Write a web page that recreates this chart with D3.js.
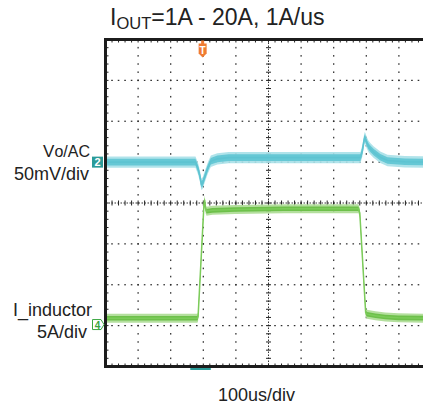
<!DOCTYPE html>
<html><head><meta charset="utf-8">
<script src="https://cdn.jsdelivr.net/npm/d3@7"></script>
<style>
html,body{margin:0;padding:0;background:#fff;overflow:hidden;}
svg{display:block;font-family:"Liberation Sans",Arial,sans-serif;}
</style></head>
<body>
<svg id="c" width="423" height="404"></svg>
<script>
// ---- data (time in us relative to trigger) ----
const voTime = [-298,-100,-22,-14,-8,-4,0,3,9,16,25,45,80,150,250,350,450,484,490,494,497,500,503,509,515,525,545,567,620,702];
const voMilliVolt = [0,0,0,-8,-18,-27,-26,-22,-15,-7,1,4,5.5,5.5,5.5,5.5,5.5,5.5,14,24,30,28,24,19,16,12,6,2,0.5,0];
const ilTime = [-298,-100,-16,-14,4,6,9,12,30,100,250,400,478,482,500,504,530,560,600,702];
const ilAmp = [0.4,0.4,0.4,0.6,14.3,14.9,13.8,13.5,13.6,13.7,13.8,13.8,13.8,13.3,1.1,0.9,0.7,0.55,0.45,0.4];
const timePerDiv = 100, voltPerDiv = 50, ampPerDiv = 5;
const titleMain = "=1A - 20A, 1A/us";
const chanLabels = [["V","o/AC"],["50mV/div"],["I_inductor"],["5A/div"]];
const timeLabel = "100us/div";

const svg = d3.select("#c");
const L = 105.5, R = 431.5, T = 39.5, B = 366.5;
const x = d3.scaleLinear().domain([-298, -298 + 10*timePerDiv]).range([L, R]);
const yV = d3.scaleLinear().domain([-5*voltPerDiv, 3*voltPerDiv]).range([B, T]);
const yI = d3.scaleLinear().domain([-1.1*ampPerDiv, 6.9*ampPerDiv]).range([B, T]);

const ink = "#1c1c1c";
const g = svg.append("g");

// grid
const divW = (R-L)/10, divH = (B-T)/8;
const dots = g.append("g").attr("fill", "#2a2a2a");
for (let i = 1; i < 10; i++) {
  if (i === 5) continue;
  const gx = x(-298 + i*timePerDiv);
  for (let k = 1; k < 40; k++) {
    dots.append("rect").attr("x", gx-0.6).attr("y", T + k*divH/5 - 0.8).attr("width", 1.2).attr("height", 1.6);
  }
}
for (let j = 1; j < 8; j++) {
  if (j === 4) continue;
  const gy = yV(-5*voltPerDiv + j*voltPerDiv);
  for (let k = 1; k < 50; k++) {
    const px = L + k*divW/5;
    if (px > 423) break;
    dots.append("rect").attr("x", px-0.8).attr("y", gy-0.6).attr("width", 1.6).attr("height", 1.2);
  }
}
// center axes
const cx = x(-298 + 5*timePerDiv), cy = yV(-5*voltPerDiv + 4*voltPerDiv);
g.append("line").attr("x1", cx).attr("x2", cx).attr("y1", T).attr("y2", B)
  .attr("stroke", "#333").attr("stroke-width", 1).attr("stroke-dasharray", "1.5,1.5");
g.append("line").attr("x1", L).attr("x2", 423).attr("y1", cy).attr("y2", cy)
  .attr("stroke", "#333").attr("stroke-width", 1).attr("stroke-dasharray", "1.5,1.5");
for (let k = 1; k < 40; k++) {
  const yy = T + k*divH/5;
  g.append("line").attr("x1", cx-2.5).attr("x2", cx+2.5).attr("y1", yy).attr("y2", yy).attr("stroke", "#222").attr("stroke-width", 1);
  g.append("line").attr("x1", L).attr("x2", L+3).attr("y1", yy).attr("y2", yy).attr("stroke", "#222").attr("stroke-width", 1);
}
for (let k = 1; k < 50; k++) {
  const xx = L + k*divW/5;
  if (xx > 423) break;
  g.append("line").attr("x1", xx).attr("x2", xx).attr("y1", cy-2.5).attr("y2", cy+2.5).attr("stroke", "#222").attr("stroke-width", 1);
  g.append("line").attr("x1", xx).attr("x2", xx).attr("y1", T).attr("y2", T+3).attr("stroke", "#222").attr("stroke-width", 1);
  g.append("line").attr("x1", xx).attr("x2", xx).attr("y1", B-3).attr("y2", B).attr("stroke", "#222").attr("stroke-width", 1);
}

// traces
const vo = voTime.map((t,i) => ({t, v: voMilliVolt[i]}));
const il = ilTime.map((t,i) => ({t, v: ilAmp[i]}));
function band(data, ys, hw, color, op) {
  g.append("path").datum(data)
    .attr("d", d3.area().x(d => x(d.t)).y0(d => ys(d.v - hw)).y1(d => ys(d.v + hw)))
    .attr("fill", color).attr("opacity", op);
}
band(vo, yV, 7, "#a7e0e8", 0.9);
band(vo, yV, 4, "#66c8d5", 1);
g.append("path").datum(vo).attr("d", d3.line().x(d => x(d.t)).y(d => yV(d.v)))
  .attr("fill", "none").attr("stroke", "#5ec3d1").attr("stroke-width", 1.6);
band(il, yI, 0.55, "#acdb93", 0.9);
band(il, yI, 0.28, "#6dc04a", 1);
g.append("path").datum(il).attr("d", d3.line().x(d => x(d.t)).y(d => yI(d.v)))
  .attr("fill", "none").attr("stroke", "#7ccb5a").attr("stroke-width", 1.5);

// frame
g.append("rect").attr("x", L).attr("y", T).attr("width", R-L).attr("height", B-T)
  .attr("fill", "none").attr("stroke", ink).attr("stroke-width", 3);

// trigger marker
const tx = x(0);
g.append("rect").attr("x", tx-1.5).attr("y", T+1).attr("width", 3).attr("height", 4).attr("fill", "#f07c32");
g.append("path").attr("d", `M${tx-4},${T+4} H${tx+4} V${T+14} L${tx},${T+18} L${tx-4},${T+14} Z`).attr("fill", "#f07c32");
g.append("text").attr("x", tx).attr("y", T+14).attr("text-anchor", "middle").attr("font-size", 10).attr("font-weight", "bold").attr("fill", "#fff").text("T");

// channel markers
const y2 = yV(0);
g.append("rect").attr("x", 92).attr("y", y2-5.5).attr("width", 11).attr("height", 11).attr("fill", "#2b9b98");
g.append("text").attr("x", 97.5).attr("y", y2+4).attr("text-anchor", "middle").attr("font-size", 11).attr("font-weight", "bold").attr("fill", "#fff").text("2");
const y4 = yI(-0.37);
g.append("path").attr("d", `M92.5,${y4-5} H101 L104,${y4} L101,${y4+5} H92.5 Z`).attr("fill", "#fff").attr("stroke", "#3aa640").attr("stroke-width", 1);
g.append("text").attr("x", 97.5).attr("y", y4+4).attr("text-anchor", "middle").attr("font-size", 10).attr("font-weight", "bold").attr("fill", "#3aa640").text("4");

// horizontal position bar
g.append("rect").attr("x", x(-38)).attr("y", B+1.5).attr("width", x(25)-x(-38)).attr("height", 2).attr("fill", "#2b9b98");

// labels
const txt = "#222";
const t1 = svg.append("text").attr("x", 90).attr("y", 157).attr("text-anchor", "end").attr("fill", txt);
t1.append("tspan").attr("font-size", 17).text(chanLabels[0][0]);
t1.append("tspan").attr("font-size", 16).text(chanLabels[0][1]);
svg.append("text").attr("x", 89).attr("y", 180).attr("text-anchor", "end").attr("font-size", 18).attr("fill", txt).text(chanLabels[1][0]);
svg.append("text").attr("x", 92).attr("y", 316).attr("text-anchor", "end").attr("font-size", 18).attr("fill", txt).text(chanLabels[2][0]);
svg.append("text").attr("x", 87).attr("y", 338).attr("text-anchor", "end").attr("font-size", 18).attr("fill", txt).text(chanLabels[3][0]);
svg.append("text").attr("x", 256.5).attr("y", 401).attr("text-anchor", "middle").attr("font-size", 18).attr("fill", txt).text(timeLabel);

const tt = svg.append("text").attr("x", 110).attr("y", 25).attr("fill", txt);
tt.append("tspan").attr("font-size", 23).text("I");
tt.append("tspan").attr("font-size", 16.5).attr("dy", 4).text("OUT");
tt.append("tspan").attr("font-size", 23).attr("dy", -4).text(titleMain);
</script>
</body></html>
